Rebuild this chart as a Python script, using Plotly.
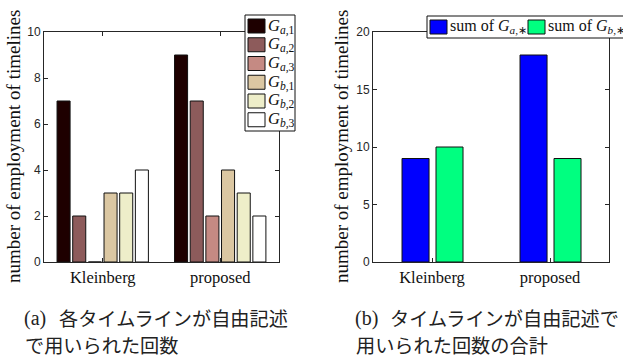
import plotly.graph_objects as go

# ---- data ----
categories = ["Kleinberg", "proposed"]
left_names = ["<i>G</i><sub><i>a</i>,1</sub>", "<i>G</i><sub><i>a</i>,2</sub>",
              "<i>G</i><sub><i>a</i>,3</sub>", "<i>G</i><sub><i>b</i>,1</sub>",
              "<i>G</i><sub><i>b</i>,2</sub>", "<i>G</i><sub><i>b</i>,3</sub>"]
ga1 = [7, 9]
ga2 = [2, 7]
ga3 = [0, 2]
gb1 = [3, 4]
gb2 = [3, 3]
gb3 = [4, 2]
left_values = [ga1, ga2, ga3, gb1, gb2, gb3]

right_names = ["sum of <i>G</i><sub><i>a</i>,∗</sub>", "sum of <i>G</i><sub><i>b</i>,∗</sub>"]
sum_ga = [9, 18]
sum_gb = [10, 9]
right_values = [sum_ga, sum_gb]

left_yticks = [0, 2, 4, 6, 8, 10]
right_yticks = [0, 5, 10, 15, 20]

ytitle = "number of employment of timelines"
cap_labels = ["(a)", "(b)"]
cap_line1 = ["各タイムラインが自由記述", "タイムラインが自由記述で"]
cap_line2 = ["で用いられた回数", "用いられた回数の合計"]

# ---- styles ----
left_colors = ["#1e0000", "#8d5b5b", "#c58a83", "#dbc7a2", "#eeeec9", "#ffffff"]
right_colors = ["#0000ff", "#00ff80"]
W, H = 623, 359
SERIF = "Liberation Serif"
SANS = "Liberation Sans"
CJK = "Noto Sans CJK JP"
AX = "#262626"
EDGE = "#111111"

def px(x):
    return x / W

def py(y):
    return 1 - y / H

fig = go.Figure()

l_start, l_slot, l_w = -0.389, 0.1333, 0.111
for i, (name, vals) in enumerate(zip(left_names, left_values)):
    fig.add_trace(go.Bar(
        x=categories, y=vals, name=name,
        offset=l_start + i * l_slot, width=l_w,
        marker=dict(color=left_colors[i], line=dict(color=EDGE, width=1)),
        xaxis="x", yaxis="y", hoverinfo="skip",
    ))

r_start, r_slot, r_w = -0.254, 0.288, 0.229
for i, (name, vals) in enumerate(zip(right_names, right_values)):
    fig.add_trace(go.Bar(
        x=categories, y=vals, name=name,
        offset=r_start + i * r_slot, width=r_w,
        marker=dict(color=right_colors[i], line=dict(color=EDGE, width=1)),
        xaxis="x2", yaxis="y2", hoverinfo="skip",
    ))

ydom = [py(262), py(32)]
common_x = dict(type="category", range=[-0.5, 1.5], showline=True, linecolor=AX, linewidth=1,
                mirror="ticks", ticks="inside", ticklen=4, tickcolor=AX,
                tickfont=dict(family=SERIF, size=16.5, color=EDGE), showgrid=False,
                zeroline=False, fixedrange=True)
common_y = dict(showline=True, linecolor=AX, linewidth=1, mirror="ticks", ticks="inside",
                ticklen=4, tickcolor=AX, tickfont=dict(family=SANS, size=12, color=AX),
                showgrid=False, zeroline=False, domain=ydom, fixedrange=True)

fig.update_layout(
    width=W, height=H, margin=dict(l=0, r=0, t=0, b=0, autoexpand=False),
    paper_bgcolor="white", plot_bgcolor="white",
    barmode="overlay", showlegend=False,
    xaxis=dict(domain=[px(44), px(279)], anchor="y", **common_x),
    yaxis=dict(range=[0, 10], tickvals=left_yticks, anchor="x", **common_y),
    xaxis2=dict(domain=[px(373), px(609)], anchor="y2", **common_x),
    yaxis2=dict(range=[0, 20], tickvals=right_yticks, anchor="x2", **common_y),
)

# ---- legend (left, vertical) ----
shapes = []
annos = []
shapes.append(dict(type="rect", xref="paper", yref="paper", x0=px(245), x1=px(295),
                   y0=py(131), y1=py(15), fillcolor="white", line=dict(color=EDGE, width=1),
                   layer="above"))
for i, name in enumerate(left_names):
    top = 19 + i * 18.75
    shapes.append(dict(type="rect", xref="paper", yref="paper", x0=px(248), x1=px(265),
                       y0=py(top + 14), y1=py(top), fillcolor=left_colors[i],
                       line=dict(color=EDGE, width=1), layer="above"))
    annos.append(dict(text=name, xref="paper", yref="paper", x=px(266), y=py(top + 7),
                      xanchor="left", yanchor="middle", showarrow=False,
                      font=dict(family=SERIF, size=16.5, color=EDGE)))

# ---- legend (right, horizontal) ----
shapes.append(dict(type="rect", xref="paper", yref="paper", x0=px(427), x1=px(630),
                   y0=py(38), y1=py(16), fillcolor="white", line=dict(color=EDGE, width=1),
                   layer="above"))
for i, name in enumerate(right_names):
    left = 430 + i * 98
    shapes.append(dict(type="rect", xref="paper", yref="paper", x0=px(left), x1=px(left + 17),
                       y0=py(34), y1=py(20), fillcolor=right_colors[i],
                       line=dict(color=EDGE, width=1), layer="above"))
    annos.append(dict(text=name, xref="paper", yref="paper", x=px(left + 18), y=py(27),
                      xanchor="left", yanchor="middle", showarrow=False,
                      font=dict(family=SERIF, size=16, color=EDGE)))

# ---- y titles ----
for xc in (13, 341):
    annos.append(dict(text=ytitle, xref="paper", yref="paper", x=px(xc), y=py(147),
                      xanchor="center", yanchor="middle", textangle=-90, showarrow=False,
                      font=dict(family=SERIF, size=19, color=EDGE)))

# ---- captions ----
for k, x0 in enumerate((22, 353)):
    annos.append(dict(text=cap_labels[k], xref="paper", yref="paper", x=px(x0), y=py(318),
                      xanchor="left", yanchor="middle", showarrow=False,
                      font=dict(family=SERIF, size=20, color="#222222")))
    annos.append(dict(text=cap_line1[k], xref="paper", yref="paper", x=px(x0 + 35), y=py(318),
                      xanchor="left", yanchor="middle", showarrow=False,
                      font=dict(family=CJK, size=19.2, color="#222222")))
    annos.append(dict(text=cap_line2[k], xref="paper", yref="paper", x=px(x0 + 1), y=py(345),
                      xanchor="left", yanchor="middle", showarrow=False,
                      font=dict(family=CJK, size=19.2, color="#222222")))

fig.update_layout(shapes=shapes, annotations=annos)
fig.write_html("out.html", config={"displayModeBar": False, "staticPlot": True},
               post_script="document.body.style.margin='0';document.body.style.overflow='hidden';")
